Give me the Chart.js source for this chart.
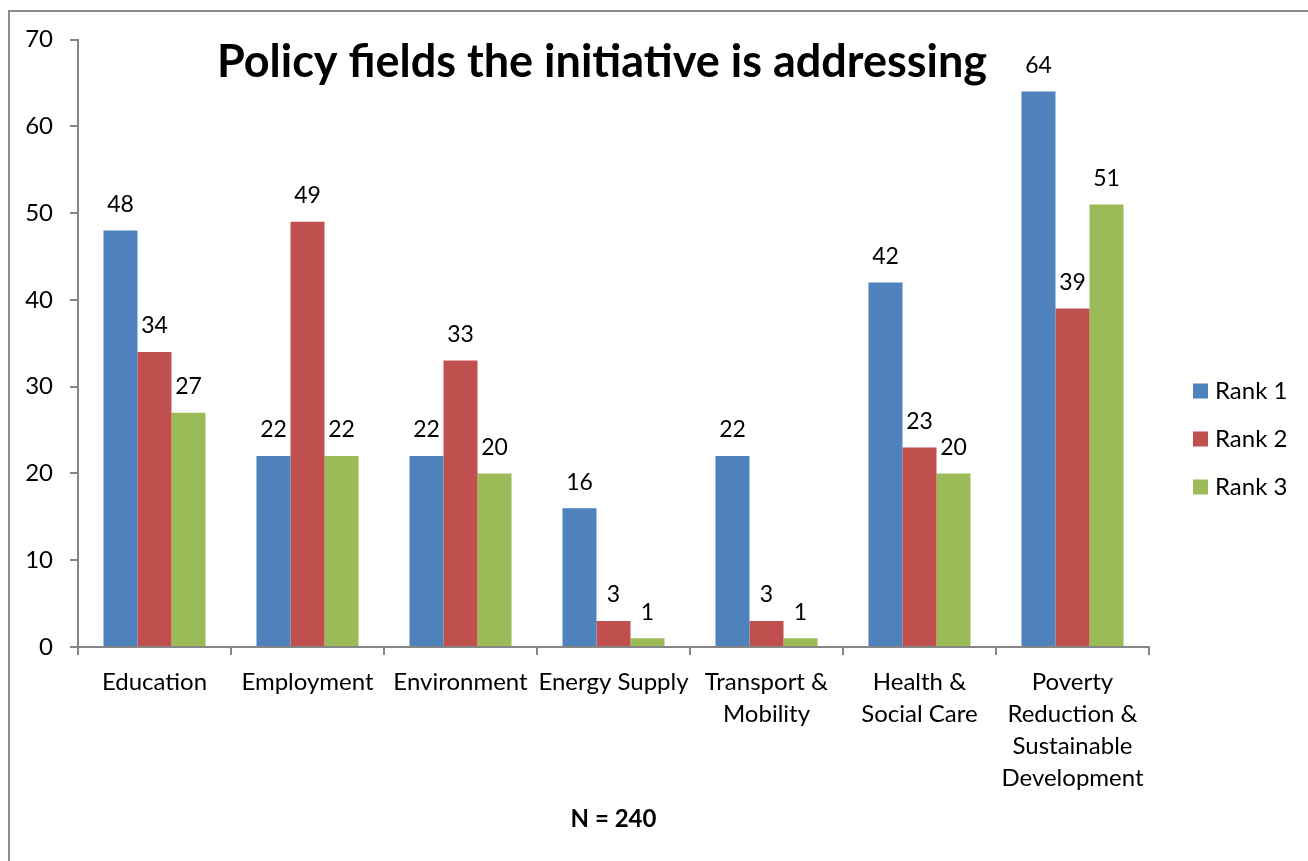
<!DOCTYPE html>
<html>
<head>
<meta charset="utf-8">
<title>Policy fields the initiative is addressing</title>
<script src="https://cdn.jsdelivr.net/npm/chart.js@4.4.1/dist/chart.umd.min.js"></script>
<style>
  html, body { margin: 0; padding: 0; background: #fff; }
  #wrap { width: 1308px; height: 861px; position: relative; }
</style>
</head>
<body>
<div id="wrap"><canvas id="myChart" width="1308" height="861"></canvas></div>
<script>
// survey results, counts per rank
var fields = [
  "Education",
  "Employment",
  "Environment",
  "Energy Supply",
  ["Transport &", "Mobility"],
  ["Health &", "Social Care"],
  ["Poverty", "Reduction &", "Sustainable", "Development"],
];
var rank1 = [48, 22, 22, 16, 22, 42, 64];
var rank2 = [34, 49, 33, 3, 3, 23, 39];
var rank3 = [27, 22, 20, 1, 1, 20, 51];
var yTicks = [0, 10, 20, 30, 40, 50, 60, 70];

var FONT = "Lato, 'Open Sans', sans-serif";
var axisGray = "#868686";

Chart.defaults.font.family = FONT;
Chart.defaults.color = "#000";

// outer frame of the chart object
var framePlugin = {
  id: "frame",
  beforeDraw: function (chart) {
    var c = chart.ctx;
    c.save();
    c.fillStyle = "#fff";
    c.fillRect(0, 0, chart.width, chart.height);
    c.strokeStyle = "#8c8c8c";
    c.lineWidth = 2;
    c.strokeRect(9, 11, chart.width + 20, chart.height + 20);
    c.restore();
  },
};

// value labels above bars + title + legend
var extrasPlugin = {
  id: "extras",
  afterDraw: function (chart) {
    var c = chart.ctx;
    var area = chart.chartArea;
    c.save();

    // numbers over each bar
    c.font = "23px " + FONT;
    c.fillStyle = "#000";
    c.textAlign = "center";
    c.textBaseline = "middle";
    chart.data.datasets.forEach(function (ds, di) {
      var meta = chart.getDatasetMeta(di);
      meta.data.forEach(function (bar, i) {
        c.fillText(String(ds.data[i]), bar.x, bar.y - 26);
      });
    });

    // title
    c.font = "bold 45px " + FONT;
    c.fillText("Policy fields the initiative is addressing", 602, 62);

    // legend
    c.textAlign = "left";
    c.font = "24px " + FONT;
    chart.data.datasets.forEach(function (ds, di) {
      var cy = 391 + di * 48;
      c.fillStyle = ds.backgroundColor;
      c.fillRect(area.right + 44, cy - 7.5, 15, 15);
      c.fillStyle = "#000";
      c.fillText(ds.label, area.right + 66, cy);
    });
    c.restore();
  },
};

var ctx = document.getElementById("myChart").getContext("2d");
var myChart = new Chart(ctx, {
  type: "bar",
  data: {
    labels: fields,
    datasets: [
      { label: "Rank 1", data: rank1, backgroundColor: "#4F81BD" },
      { label: "Rank 2", data: rank2, backgroundColor: "#C0504D" },
      { label: "Rank 3", data: rank3, backgroundColor: "#9BBB59" },
    ],
  },
  options: {
    responsive: false,
    animation: false,
    datasets: {
      bar: { categoryPercentage: 0.667, barPercentage: 1.0, borderWidth: 0 },
    },
    layout: { padding: { top: 39.5, right: 159, left: 0, bottom: 0 } },
    plugins: {
      legend: { display: false },
      tooltip: { enabled: false },
    },
    scales: {
      x: {
        grid: {
          offset: true,
          drawOnChartArea: false,
          drawTicks: true,
          tickLength: 8,
          color: axisGray,
          lineWidth: 2,
        },
        border: { color: axisGray, width: 2 },
        ticks: {
          autoSkip: false,
          maxRotation: 0,
          minRotation: 0,
          padding: 11,
          font: { size: 24, lineHeight: 1.333 },
          color: "#000",
        },
        title: {
          display: true,
          text: "N = 240",
          font: { size: 24, weight: "bold" },
          color: "#000",
          padding: { top: 4, bottom: 27 },
        },
        afterFit: function (scale) {
          scale.height = 214;
        },
      },
      y: {
        min: 0,
        max: 70,
        afterBuildTicks: function (scale) {
          scale.ticks = yTicks.map(function (v) { return { value: v }; });
        },
        grid: {
          drawOnChartArea: false,
          drawTicks: true,
          tickLength: 8,
          color: axisGray,
          lineWidth: 2,
        },
        border: { color: axisGray, width: 2 },
        ticks: {
          padding: 17,
          font: { size: 24 },
          color: "#000",
        },
        afterFit: function (scale) {
          scale.width = 78;
        },
      },
    },
  },
  plugins: [framePlugin, extrasPlugin],
});
</script>
</body>
</html>
